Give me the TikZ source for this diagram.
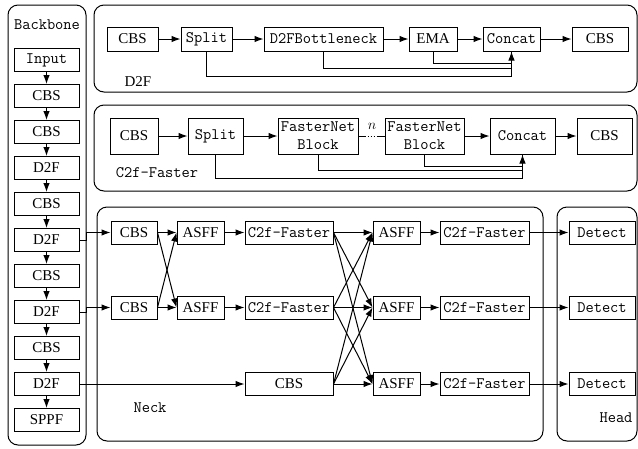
\documentclass[tikz,border=0pt]{standalone}
\usepackage{fontspec}
\setmainfont{Liberation Serif}
\usetikzlibrary{arrows.meta}
\tikzset{
  blk/.style={draw, line width=1pt, inner sep=0pt, minimum height=23pt, font=\fontsize{15}{17}\selectfont},
  mblk/.style={blk, font=\ttfamily\fontsize{16}{18}\selectfont},
  bb/.style={blk, minimum width=65pt},
  mbb/.style={mblk, minimum width=65pt},
  panel/.style={draw, line width=1pt, rounded corners=10pt},
  arr/.style={-{Latex[length=9pt,width=6.5pt]}, line width=1pt},
  lbl/.style={font=\fontsize{15}{17}\selectfont},
  mlbl/.style={font=\ttfamily\fontsize{16}{18}\selectfont}
}
\begin{document}
\begin{tikzpicture}[x=1pt,y=-1pt,line width=1pt]
    \useasboundingbox (0,0) rectangle (638,448);
    \draw[panel] (8,5) rectangle (86,445);
    \draw[panel] (94,5) rectangle (637,92);
    \draw[panel] (94,105) rectangle (637,191);
    \draw[panel] (97,207) rectangle (543,441);
    \draw[panel] (557,207) rectangle (637,441);

    \node[mlbl] (bbtitle) at (47,25) {Backbone};
    \node[mbb] (b0) at (46.5,60) {Input};
    \node[bb] (b1) at (46.5,96) {CBS};
    \node[bb] (b2) at (46.5,132) {CBS};
    \node[bb] (b3) at (46.5,168) {D2F};
    \node[bb] (b4) at (46.5,204) {CBS};
    \node[bb] (b5) at (46.5,240) {D2F};
    \node[bb] (b6) at (46.5,276) {CBS};
    \node[bb] (b7) at (46.5,312) {D2F};
    \node[bb] (b8) at (46.5,348) {CBS};
    \node[bb] (b9) at (46.5,384) {D2F};
    \node[bb] (b10) at (46.5,420) {SPPF};
    \foreach \i [evaluate=\i as \j using int(\i+1)] in {0,...,9}
        \draw[arr] (b\i.south) -- (b\j.north);

    \node[blk, minimum width=51pt, minimum height=24pt] (d1) at (132.5,39) {CBS};
    \node[mblk, minimum width=51pt, minimum height=24pt] (d2) at (206.5,39) {Split};
    \node[mblk, minimum width=119pt, minimum height=24pt] (d3) at (323.5,39) {D2FBottleneck};
    \node[blk, minimum width=48pt, minimum height=24pt] (d4) at (433,39) {EMA};
    \node[mblk, minimum width=57pt, minimum height=24pt] (d5) at (511.5,39) {Concat};
    \node[blk, minimum width=56pt, minimum height=24pt] (d6) at (600,39) {CBS};
    \node[lbl] (d2flabel) at (138,82) {D2F};
    \foreach \a/\b in {d1/d2,d2/d3,d3/d4,d4/d5,d5/d6}
        \draw[arr] (\a) -- (\b);
    \draw[arr] (d2.south) -- ++(0,25) -| (d5.south);
    \draw (d3.south) -- ++(0,17) -| (d5.south);
    \draw (d4.south) -- ++(0,12) -| (d5.south);

    \node[blk, minimum width=48pt, minimum height=36pt] (c1) at (134,136) {CBS};
    \node[mblk, minimum width=55pt, minimum height=36pt] (c2) at (215.5,136) {Split};
    \node[mblk, minimum width=80pt, minimum height=36pt, align=center] (c3) at (318,136) {FasterNet\\Block};
    \node[mblk, minimum width=79pt, minimum height=36pt, align=center] (c4) at (424.5,136) {FasterNet\\Block};
    \node[mblk, minimum width=65pt, minimum height=36pt] (c5) at (522.5,136) {Concat};
    \node[blk, minimum width=55pt, minimum height=36pt] (c6) at (604.5,136) {CBS};
    \node[mlbl] (c2flabel) at (157,173) {C2f-Faster};
    \node[font=\fontsize{15}{17}\selectfont] (nlabel) at (372,126) {$n$};
    \foreach \a/\b in {c1/c2,c2/c3,c4/c5,c5/c6}
        \draw[arr] (\a) -- (\b);
    \draw[dash pattern=on 7pt off 2pt on 1pt off 2pt on 1pt off 2pt on 1pt off 2pt on 9pt] (c3.east) -- (c4.west);
    \draw[arr] (c2.south) -- ++(0,24) -| (c5.south);
    \draw (c3.south) -- ++(0,16) -| (c5.south);
    \draw (c4.south) -- ++(0,12) -| (c5.south);

    \node[blk, minimum width=46pt] (n1) at (134,232.5) {CBS};
    \node[blk, minimum width=46pt] (n2) at (134,307.5) {CBS};
    \node[blk, minimum width=47pt] (a1) at (200.5,232.5) {ASFF};
    \node[blk, minimum width=47pt] (a2) at (200.5,307.5) {ASFF};
    \node[mblk, minimum width=88pt] (f1) at (289,232.5) {C2f-Faster};
    \node[mblk, minimum width=88pt] (f2) at (289,307.5) {C2f-Faster};
    \node[blk, minimum width=88pt] (n3) at (289,384) {CBS};
    \node[blk, minimum width=47pt] (a3) at (396.5,232.5) {ASFF};
    \node[blk, minimum width=47pt] (a4) at (396.5,307.5) {ASFF};
    \node[blk, minimum width=47pt] (a5) at (396.5,384) {ASFF};
    \node[mblk, minimum width=89pt] (f3) at (484.5,232.5) {C2f-Faster};
    \node[mblk, minimum width=89pt] (f4) at (484.5,307.5) {C2f-Faster};
    \node[mblk, minimum width=89pt] (f5) at (484.5,384) {C2f-Faster};
    \node[mblk, minimum width=66pt] (t1) at (602,232.5) {Detect};
    \node[mblk, minimum width=66pt] (t2) at (602,307.5) {Detect};
    \node[mblk, minimum width=66pt] (t3) at (602,384) {Detect};
    \node[mlbl] (necklabel) at (150,408) {Neck};
    \node[mlbl] (headlabel) at (616,418) {Head};

    \draw[arr] (b5.east) -- ++(7,0) |- (n1.west);
    \draw[arr] (b7.east) -- ++(7,0) |- (n2.west);
    \draw[arr] (b9.east) -- (n3.west);
    \foreach \s in {n1,n2}
        \foreach \t in {a1,a2}
            \draw[arr] (\s.east) -- (\t.west);
    \foreach \s in {f1,f2,n3}
        \foreach \t in {a3,a4,a5}
            \draw[arr] (\s.east) -- (\t.west);
    \foreach \a/\b in {a1/f1,a2/f2,a3/f3,a4/f4,a5/f5,f3/t1,f4/t2,f5/t3}
        \draw[arr] (\a) -- (\b);
\end{tikzpicture}
\end{document}
